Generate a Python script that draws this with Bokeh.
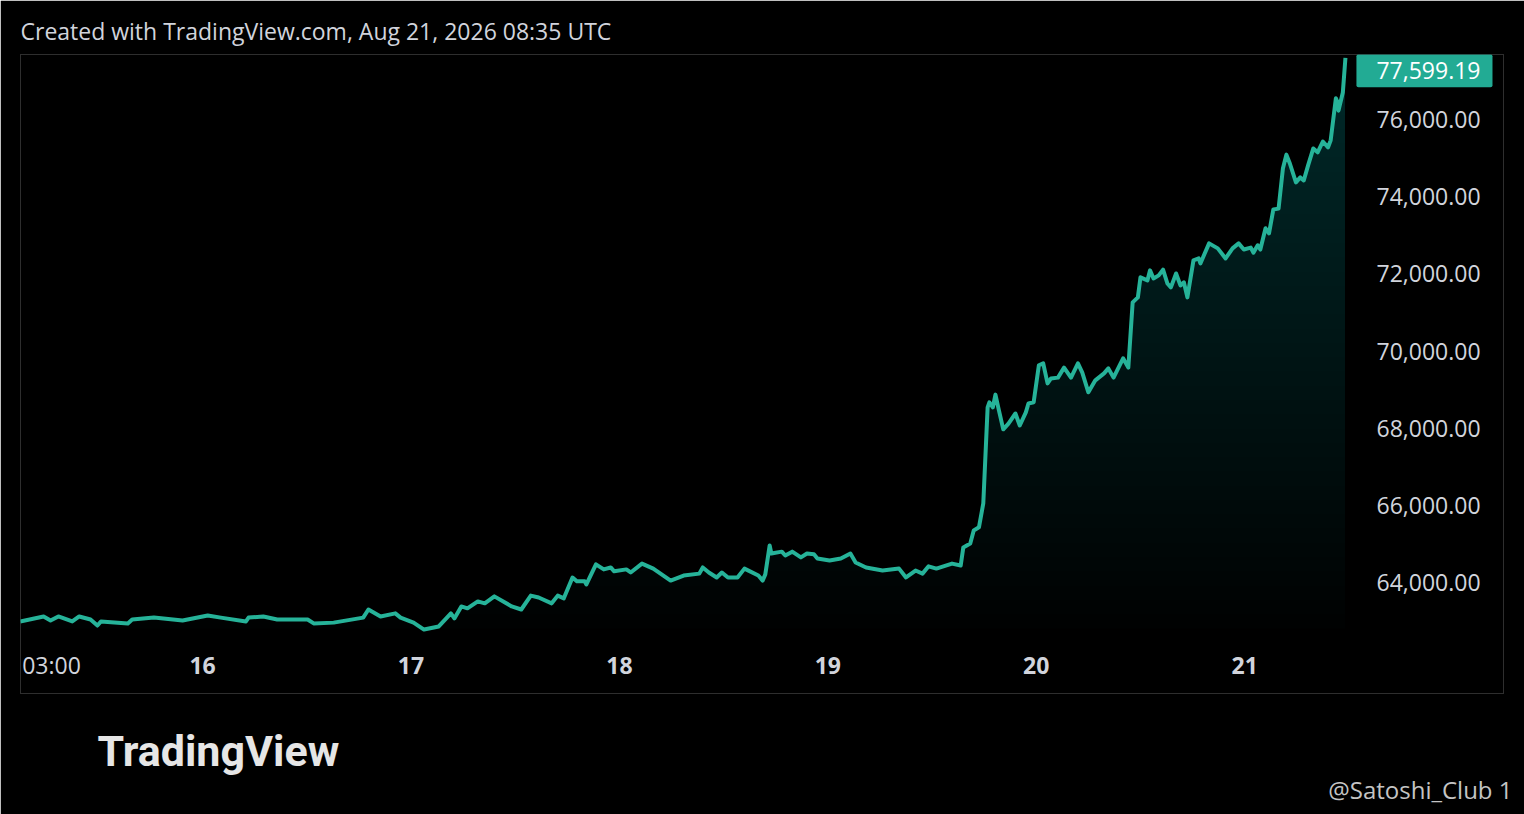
import numpy as np
from bokeh.plotting import figure
from bokeh.models import (Range1d, LinearAxis, FixedTicker, NumeralTickFormatter,
                          Title, Label)
from bokeh.embed import file_html
from bokeh.resources import INLINE

# ---------------- data ----------------
TITLE = "Created with TradingView.com, Aug 21, 2026 08:35 UTC"
# hours since Aug 15 00:00 UTC
HOURS = [3.0, 5.7, 6.5, 7.4, 9.0, 9.8, 11.1, 11.9, 12.3, 15.4, 15.9, 18.4, 21.7,
         24.6, 26.1, 29.0, 29.3, 31.0, 32.6, 36.1, 36.8, 39.1, 42.5, 43.1, 44.5,
         46.2, 46.8, 48.3, 49.5, 51.2, 52.6, 53.0, 53.8, 54.5, 55.7, 56.5, 57.6,
         59.6, 60.7, 61.8, 62.7, 64.2, 64.9, 65.6, 66.6, 67.1, 68.0, 68.2, 69.3,
         70.2, 71.0, 71.4, 72.8, 73.3, 74.6, 75.9, 77.9, 79.4, 81.2, 81.6, 82.3,
         83.2, 83.8, 84.5, 85.6, 86.4, 88.0, 88.5, 88.8, 89.3, 89.5, 90.7, 91.1,
         91.9, 92.9, 93.6, 94.4, 94.8, 96.2, 97.5, 98.6, 99.2, 100.4, 102.3,
         104.2, 105.0, 106.1, 106.9, 107.6, 108.5, 110.3, 111.3, 111.6, 112.4,
         112.8, 113.4, 113.9, 114.4, 114.6, 115.0, 115.3, 115.7, 116.2, 116.8,
         117.6, 118.1, 118.8, 119.1, 119.7, 120.3, 120.8, 121.3, 121.7, 122.5,
         123.2, 124.0, 124.8, 125.3, 126.0, 126.8, 127.8, 128.3, 128.9, 130.0,
         130.6, 131.1, 131.7, 132.0, 132.8, 133.1, 133.5, 134.1, 134.6, 135.1,
         135.5, 136.1, 136.6, 137.0, 137.4, 138.1, 138.7, 138.9, 139.9, 140.9,
         141.8, 142.6, 143.3, 143.9, 144.7, 145.0, 145.5, 145.8, 146.4, 146.8,
         147.3, 147.9, 148.4, 148.8, 149.2, 149.9, 150.4, 150.8, 151.3, 151.9,
         152.4, 153.0, 153.6, 153.9, 154.5, 154.7, 154.8, 155.3, 155.6]
PRICES = [62990, 63120, 63015, 63120, 62990, 63120, 63040, 62885, 62990, 62940,
          63040, 63090, 63015, 63145, 63090, 62990, 63090, 63120, 63040, 63040,
          62940, 62960, 63090, 63300, 63120, 63200, 63090, 62960, 62780, 62860,
          63200, 63070, 63380, 63330, 63510, 63460, 63640, 63380, 63300, 63660,
          63610, 63460, 63660, 63590, 64130, 64030, 64030, 63950, 64470, 64340,
          64390, 64290, 64340, 64260, 64490, 64360, 64050, 64180, 64230, 64390,
          64260, 64130, 64260, 64130, 64130, 64360, 64180, 64050, 64210, 64960,
          64750, 64800, 64700, 64800, 64650, 64750, 64730, 64620, 64570, 64620,
          64750, 64520, 64390, 64310, 64360, 64130, 64310, 64230, 64420, 64360,
          64490, 64440, 64910, 65010, 65350, 65430, 66050, 68540, 68670, 68540,
          68870, 68460, 67970, 68120, 68380, 68070, 68410, 68640, 68670, 69630,
          69680, 69160, 69290, 69310, 69570, 69310, 69680, 69440, 68930, 69240,
          69420, 69550, 69310, 69810, 69570, 71260, 71390, 71910, 71830, 72090,
          71880, 71960, 72110, 71750, 71650, 72010, 71700, 71780, 71390, 72350,
          72400, 72270, 72790, 72660, 72400, 72660, 72790, 72630, 72680, 72550,
          72740, 72630, 73180, 73050, 73670, 73690, 74730, 75090, 74860, 74370,
          74500, 74420, 74810, 75250, 75150, 75430, 75280, 75460, 76550, 76440,
          76230, 76700, 77599.19]
PRICE_TICKS = [64000, 66000, 68000, 70000, 72000, 74000, 76000]
DAY_TICKS = [24, 48, 72, 96, 120, 144]
DAY_LABELS = ["16", "17", "18", "19", "20", "21"]
START_LABEL = "03:00"
WATERMARK = "TradingView"
CREDIT = "@Satoshi_Club 1"

# ---------------- style ----------------
TEAL = "#22ab94"
LINE = "#26b399"
TEXT = "#d1d4dc"
FONT = "Open Sans"
X0, X1 = 3.04, 173.8
Y0, Y1 = 61123, 77685
PX_PER_UNIT_Y = 639 / (Y1 - Y0)

p = figure(width=1524, height=814, output_backend="svg", toolbar_location=None,
           x_range=Range1d(X0, X1), y_range=Range1d(Y0, Y1),
           x_axis_location=None, y_axis_location=None,
           min_border_left=20, min_border_right=21, min_border_top=54,
           min_border_bottom=121,
           background_fill_color="#000000", border_fill_color="#000000",
           outline_line_color="#2e2e2e", outline_line_width=1)
p.grid.visible = False

p.title = Title(text=TITLE, align="left", text_font=FONT, text_font_size="23px",
                text_font_style="normal", text_color=TEXT, standoff=15)

# gradient fill under the line: stacked translucent bands
x = np.array(HOURS, dtype=float)
y = np.array(PRICES, dtype=float)
N = 40
lo, hi = 62800.0, 77600.0
alpha = 1 - 0.60 ** (1 / N)
for k in range(N):
    level = lo + k * (hi - lo) / N
    p.varea(x=x, y1=np.full_like(y, level), y2=np.maximum(y, level),
            fill_color=TEAL, fill_alpha=alpha)

p.line(x, y, line_color=LINE, line_width=4, line_join="round")

# price scale
ya = LinearAxis(ticker=FixedTicker(ticks=PRICE_TICKS),
                formatter=NumeralTickFormatter(format="0,0.00"),
                axis_line_color=None, major_tick_line_color=None,
                minor_tick_line_color=None, major_tick_in=0, major_tick_out=0,
                major_label_standoff=-127, major_label_text_color=TEXT,
                major_label_text_font=FONT, major_label_text_font_size="23px")
p.add_layout(ya, "right")

# time scale
xa = LinearAxis(ticker=FixedTicker(ticks=DAY_TICKS),
                major_label_overrides=dict(zip(DAY_TICKS, DAY_LABELS)),
                axis_line_color=None, major_tick_line_color=None,
                minor_tick_line_color=None, major_tick_in=0, major_tick_out=0,
                major_label_standoff=-37, major_label_text_color=TEXT,
                major_label_text_font=FONT, major_label_text_font_size="23px",
                major_label_text_font_style="bold")
p.add_layout(xa, "below")

p.add_layout(Label(x=HOURS[0], y=Y0 + 29 / PX_PER_UNIT_Y, text=START_LABEL,
                   x_offset=2, text_align="left", text_baseline="middle",
                   text_color=TEXT, text_font=FONT, text_font_size="23px"))

# last price tag
p.add_layout(Label(x=HOURS[-1], y=PRICES[-1], x_offset=11, y_offset=-13,
                   text=f"{PRICES[-1]:,.2f}", text_align="left",
                   text_baseline="middle", text_color="#ffffff", text_font=FONT,
                   text_font_size="23px", background_fill_color=TEAL,
                   padding=(20, 12, 8, 8), border_radius=2))

# footer texts
p.add_layout(Title(text=WATERMARK, align="left", offset=77, text_font="Roboto",
                   text_font_size="43px", text_font_style="bold",
                   text_color="#e6e6e6", standoff=60), "below")
p.add_layout(Title(text=CREDIT, align="right", offset=-9, text_font=FONT,
                   text_font_size="24px", text_font_style="normal",
                   text_color="#c4c4c4", vertical_align="top", standoff=-66),
             "below")

open("out.html", "w").write(file_html(p, INLINE))
